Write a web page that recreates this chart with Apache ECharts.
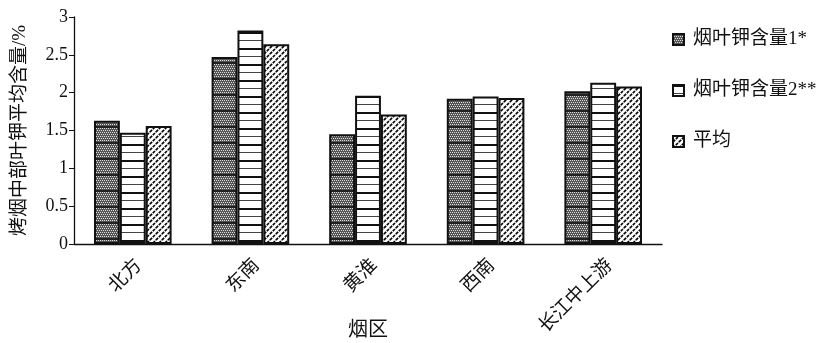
<!DOCTYPE html>
<html><head><meta charset="utf-8">
<script src="https://cdn.jsdelivr.net/npm/echarts@6/dist/echarts.min.js"></script>
<style>html,body{margin:0;padding:0;background:#fff}#c{width:833px;height:343px}</style>
</head><body><div id="c"></div>
<script>
const categories = ['北方', '东南', '黄淮', '西南', '长江中上游'];
const seriesNames = ['烟叶钾含量1*', '烟叶钾含量2**', '平均'];
const potassium1 = [1.63, 2.47, 1.45, 1.92, 2.02];
const potassium2 = [1.47, 2.82, 1.96, 1.95, 2.13];
const average = [1.56, 2.64, 1.71, 1.93, 2.08];
const yTicks = [0, 0.5, 1, 1.5, 2, 2.5, 3];

function mk(w, h, draw) {
  const c = document.createElement('canvas');
  c.width = w; c.height = h;
  const g = c.getContext('2d');
  g.fillStyle = '#fff'; g.fillRect(0, 0, w, h);
  draw(g);
  return { image: c, repeat: 'repeat' };
}
const pat1 = mk(4, 16, g => {
  g.fillStyle = '#555'; g.fillRect(0, 0, 4, 16);
  g.fillStyle = '#ddd';
  for (let y = 0; y < 14; y += 2) for (let x = (y / 2) % 2; x < 4; x += 2) g.fillRect(x, y, 1, 1);
  g.fillStyle = '#222'; g.fillRect(0, 14, 4, 2);
});
const pat2 = mk(4, 16, g => {
  g.fillStyle = '#111';
  g.fillRect(0, 0, 4, 2);
  g.fillStyle = '#444';
  g.fillRect(0, 8, 4, 1);
});
const pat3 = mk(6, 6, g => {
  g.strokeStyle = '#000'; g.lineWidth = 1.6;
  g.setLineDash([3, 1]);
  [[-3, 3, 3, -3], [0, 6, 6, 0], [3, 9, 9, 3]].forEach(p => {
    g.beginPath(); g.moveTo(p[0], p[1]); g.lineTo(p[2], p[3]); g.stroke();
  });
});
const pats = [pat1, pat2, pat3];
const values = [potassium1, potassium2, average];

const font = '"Liberation Serif", "Noto Sans CJK SC", serif';
const chart = echarts.init(document.getElementById('c'), null, { renderer: 'canvas' });
chart.setOption({
  animation: false,
  textStyle: { fontFamily: font, color: '#111' },
  grid: { left: 74, right: 171, top: 17, bottom: 99, outerBoundsMode: 'none', containLabel: false },
  legend: {
    orient: 'vertical', left: 672, top: 30, itemGap: 32, padding: 0,
    itemWidth: 11, itemHeight: 11, icon: 'rect',
    textStyle: { fontFamily: font, fontSize: 19, color: '#111', padding: [0, 0, 0, 4] },
    data: seriesNames
  },
  xAxis: {
    type: 'category', data: categories,
    name: '烟区', nameLocation: 'middle', nameGap: 77, nameMoveOverlap: false,
    nameTextStyle: { fontFamily: font, fontSize: 20, color: '#111' },
    axisLine: { lineStyle: { color: '#111', width: 1.3 } },
    axisTick: { length: 5, lineStyle: { color: '#111' } },
    axisLabel: { rotate: 45, fontSize: 19, color: '#111', fontFamily: font, margin: 25, padding: [0, -9, 0, 0] }
  },
  yAxis: {
    type: 'value', min: yTicks[0], max: yTicks[yTicks.length - 1], interval: 0.5,
    name: '烤烟中部叶钾平均含量/%', nameLocation: 'middle', nameGap: 44, nameMoveOverlap: false,
    nameTextStyle: { fontFamily: font, fontSize: 19, color: '#111' },
    axisLine: { show: true, lineStyle: { color: '#111', width: 1.3 } },
    axisTick: { show: true, length: 5, lineStyle: { color: '#111' } },
    splitLine: { show: false },
    axisLabel: { fontSize: 18, color: '#111', fontFamily: font, margin: 6 }
  },
  series: values.map((v, i) => ({
    type: 'bar', name: seriesNames[i], data: v,
    barGap: '0%', barCategoryGap: '34%',
    itemStyle: { color: pats[i], borderColor: '#111', borderWidth: 2 }
  }))
});
</script></body></html>
